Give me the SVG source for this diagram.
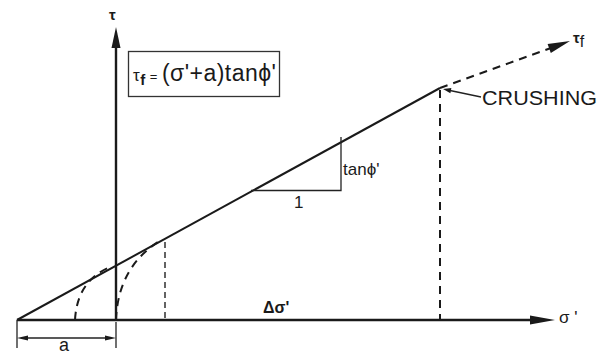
<svg xmlns="http://www.w3.org/2000/svg" width="597" height="358" viewBox="0 0 597 358">
<defs>
<style>
.ax{stroke:#1a1a1a;stroke-width:2.4;fill:none}
.ln{stroke:#1a1a1a;stroke-width:2;fill:none}
.th{stroke:#222;stroke-width:1.3;fill:none}
.ds{stroke:#1a1a1a;stroke-width:2;fill:none;stroke-dasharray:8 6}
.dt{stroke:#222;stroke-width:1.4;fill:none;stroke-dasharray:6 4}
.hd{fill:#1a1a1a;stroke:none}
text{font-family:"Liberation Sans",Arial,sans-serif;fill:#1a1a1a}
</style>
</defs>
<g id="connectors">
<line class="ax" x1="116" y1="320" x2="116" y2="44"/>
<path class="hd" d="M116,27 L120.5,48 L111.5,48 Z"/>
<line class="ax" x1="17" y1="320" x2="534" y2="320"/>
<path class="hd" d="M555,320 L530,315.5 L530,324.5 Z"/>
<line class="ln" x1="17" y1="320" x2="440" y2="88"/>
<line class="ds" x1="440" y1="88" x2="551" y2="48"/>
<path class="hd" d="M570,41 L550.8,52.9 L547.6,44.1 Z"/>
<line class="ds" x1="440" y1="90" x2="440" y2="320"/>
<line class="dt" x1="165" y1="242" x2="165" y2="320"/>
<path class="ds" d="M75,320 Q77,282 108,268"/>
<path class="ds" d="M116,320 Q118,268 158,242"/>
<polyline class="th" points="251,190.5 341,190.5 341,137"/>
<line class="th" x1="481" y1="97" x2="450" y2="90.5"/>
<path class="hd" d="M443,89 L451.4,87.9 L450.4,93.3 Z"/>
<line class="th" x1="17" y1="320" x2="17" y2="348"/>
<line class="th" x1="116" y1="322" x2="116" y2="348"/>
<line class="th" x1="26" y1="338" x2="107" y2="338"/>
<path class="hd" d="M17,338 L28,335.5 L28,340.5 Z M116,338 L105,335.5 L105,340.5 Z"/>
</g>
<g id="formula">
<rect x="128.5" y="51.5" width="151" height="45" fill="none" stroke="#333" stroke-width="1.3"/>
<text x="133" y="81" font-size="17" textLength="143" lengthAdjust="spacing">τ<tspan font-size="15" dy="4" font-weight="bold">f</tspan><tspan dy="-4" font-size="13"> = </tspan><tspan font-size="23">(σ'+a)tanϕ'</tspan></text>
</g>
<g id="labels">
<text x="109" y="20" font-size="15" font-weight="bold">τ</text>
<text x="573" y="43" font-size="15" font-weight="bold">τ<tspan dy="4" font-size="16" font-weight="normal">f</tspan></text>
<text x="482" y="105" font-size="20" textLength="115" lengthAdjust="spacingAndGlyphs">CRUSHING</text>
<text x="343" y="175" font-size="17">tanϕ'</text>
<text x="294" y="208" font-size="17">1</text>
<text x="263" y="313" font-size="16" font-weight="bold">Δσ'</text>
<text x="559" y="323" font-size="17">σ '</text>
<text x="59" y="351" font-size="18">a</text>
</g>
</svg>
